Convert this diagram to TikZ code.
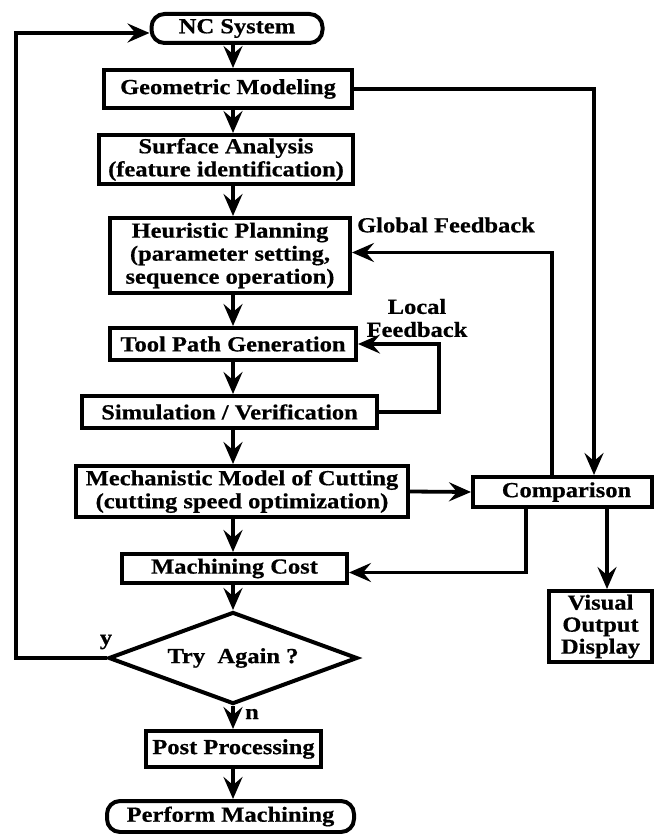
\documentclass[tikz,border=0pt]{standalone}
\usepackage{fontspec}
\setmainfont[FakeStretch=1.14,FakeBold=0.6]{Liberation Serif}
\usetikzlibrary{shapes.geometric,arrows.meta}
\begin{document}
\begin{tikzpicture}[x=1pt,y=-1pt,
  every node/.style={font=\bfseries\fontsize{21.5}{23}\selectfont, align=center, inner sep=0pt},
  box/.style={draw, line width=4pt, rectangle},
  rbox/.style={draw, line width=4pt, rounded corners=13pt},
  arr/.style={line width=3.8pt, -{Stealth[length=22pt,width=19pt,inset=8pt]}},
  ln/.style={line width=3.8pt}]
\useasboundingbox (0,0) rectangle (654,834);

\node[rbox, minimum width=171pt, minimum height=29pt] (nc) at (237,28.5) {NC System};
\node[box, minimum width=248pt, minimum height=38pt] (gm) at (228,89) {Geometric Modeling};
\node[box, minimum width=254pt, minimum height=49pt] (sa) at (226,159.5) {Surface Analysis\\(feature identification)};
\node[box, minimum width=240pt, minimum height=75pt] (hp) at (230,255.5) {Heuristic Planning\\(parameter setting,\\sequence operation)};
\node[box, minimum width=246pt, minimum height=32pt] (tp) at (233,344) {Tool Path Generation};
\node[box, minimum width=295pt, minimum height=32pt] (sim) at (229.5,412) {Simulation / Verification};
\node[box, minimum width=332pt, minimum height=51pt] (mech) at (242,491.5) {Mechanistic Model of Cutting\\(cutting speed optimization)};
\node[box, minimum width=179pt, minimum height=30pt] (cmp) at (562.5,492) {\hspace*{8pt}Comparison};
\node[box, minimum width=225pt, minimum height=29pt] (mc) at (234.5,568.5) {Machining Cost};
\node[draw, line width=4pt, diamond, aspect=2.7, minimum width=249pt, minimum height=92pt] (dia) at (233,658) {Try\ \ Again ?};
\node[box, minimum width=175pt, minimum height=36pt] (post) at (233.5,749) {Post Processing};
\node[rbox, minimum width=247pt, minimum height=31pt] (perf) at (230.5,816.5) {Perform Machining};
\node[box, minimum width=103pt, minimum height=71pt, font=\bfseries\fontsize{21.5}{22}\selectfont] (vis) at (600.5,626.5) {Visual\\Output\\Display};

\node (gfb) at (446,225) {Global Feedback};
\node (lfb) at (417,318) {Local\\Feedback};
\node (ylab) at (106,642) {y};
\node (nlab) at (252,714) {n};

% main column
\draw[arr] (nc.south -| 233,0) -- (gm.north -| 233,0);
\draw[arr] (gm.south -| 233,0) -- (sa.north -| 233,0);
\draw[arr] (sa.south -| 233,0) -- (hp.north -| 233,0);
\draw[arr] (hp.south -| 233,0) -- (tp.north -| 233,0);
\draw[arr] (tp.south -| 233,0) -- (sim.north -| 233,0);
\draw[arr] (sim.south -| 233,0) -- (mech.north -| 233,0);
\draw[arr] (mech.south -| 233,0) -- (mc.north -| 233,0);
\draw[arr] (mc.south -| 233,0) -- (dia.north);
\draw[arr] (dia.south) -- (post.north -| 233,0);
\draw[arr] (post.south -| 233,0) -- (perf.north -| 233,0);

% loop back
\draw[arr] (dia.west) -- (16,658) -- (16,33) -- ([yshift=-4.5pt]nc.west);

% geometric modeling to comparison
\draw[arr] (gm.east) -| (cmp.north -| 594,0);
% global feedback
\draw[arr] (cmp.north -| 552,0) |- ([yshift=3pt]hp.east);
% local feedback
\draw[arr] (sim.east) -- ++(60,0) |- (tp.east);
% mech to comparison
\draw[arr] (mech.east) -- (cmp.west);
% comparison to machining cost
\draw[arr] (cmp.south -| 526,0) |- ([yshift=-4pt]mc.east);
% comparison to visual
\draw[arr] (cmp.south -| 607,0) -- (vis.north -| 607,0);
\end{tikzpicture}
\end{document}
